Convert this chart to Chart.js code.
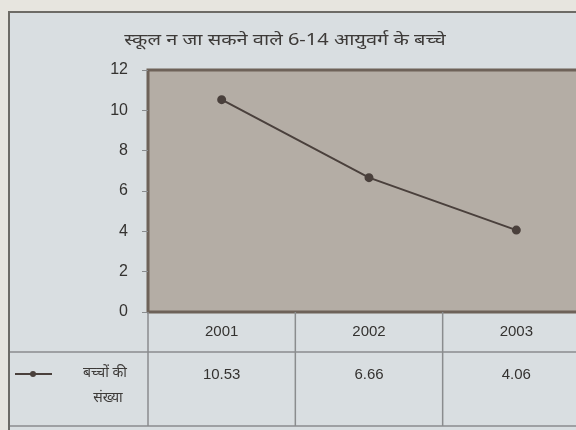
<!DOCTYPE html>
<html>
<head>
<meta charset="utf-8">
<script src="https://cdn.jsdelivr.net/npm/chart.js@4/dist/chart.umd.min.js"></script>
<style>
  html, body { margin: 0; padding: 0; width: 576px; height: 430px; overflow: hidden; background: #e7e5df; }
  #wrap { position: absolute; left: 0; top: 0; width: 600px; height: 430px; }
</style>
</head>
<body>
<div id="wrap"><canvas id="c" width="600" height="430"></canvas></div>
<script>
const title = "स्कूल न जा सकने वाले 6-14 आयुवर्ग के बच्चे";
const seriesName = ["बच्चों की", "संख्या"];
const years = ["2001", "2002", "2003"];
const children = [10.53, 6.66, 4.06];
const childrenText = ["10.53", "6.66", "4.06"];
const yMax = 12;
const yStep = 2;

const ink = "#4a403c";

// scanned page frame, plot background, title and data table
const pagePlugin = {
  id: "page",
  beforeDraw(chart) {
    const { ctx, chartArea: a, width } = chart;
    ctx.save();
    ctx.fillStyle = "#e7e5df";
    ctx.fillRect(0, 0, width, 430);
    ctx.fillStyle = "#d9dee1";
    ctx.fillRect(9, 12, width, 420);
    ctx.strokeStyle = "#6d6b66";
    ctx.lineWidth = 2;
    ctx.beginPath();
    ctx.moveTo(9, 431);
    ctx.lineTo(9, 12);
    ctx.lineTo(width, 12);
    ctx.stroke();
    // plot area
    ctx.fillStyle = "#b4ada5";
    ctx.fillRect(a.left, a.top, width - a.left, a.bottom - a.top);
    ctx.strokeStyle = "#6e6259";
    ctx.lineWidth = 3;
    ctx.beginPath();
    ctx.moveTo(a.left, a.bottom);
    ctx.lineTo(a.left, a.top);
    ctx.lineTo(width, a.top);
    ctx.stroke();
    // title, stretched a bit like the printed one
    ctx.fillStyle = "#3d3a38";
    ctx.font = "16px 'Noto Sans', 'DejaVu Sans', sans-serif";
    ctx.textAlign = "center";
    ctx.textBaseline = "middle";
    ctx.translate(285, 40);
    ctx.scale(1.25, 1);
    ctx.fillText(title, 0, 0);
    ctx.restore();
  },
  afterDraw(chart) {
    const { ctx, chartArea: a, width, scales } = chart;
    const x = scales.x;
    const row1 = a.bottom + 40, row2 = 426;
    ctx.save();
    // bottom border of plot
    ctx.strokeStyle = "#6e6259";
    ctx.lineWidth = 3;
    ctx.beginPath();
    ctx.moveTo(a.left - 1, a.bottom);
    ctx.lineTo(width, a.bottom);
    ctx.stroke();
    // table grid
    ctx.strokeStyle = "#8a8c8e";
    ctx.lineWidth = 1.5;
    ctx.beginPath();
    ctx.moveTo(10, row1); ctx.lineTo(width, row1);
    ctx.moveTo(10, row2); ctx.lineTo(width, row2);
    ctx.moveTo(a.left, a.bottom); ctx.lineTo(a.left, row2);
    for (let i = 0; i < years.length - 1; i++) {
      const b = (x.getPixelForValue(i) + x.getPixelForValue(i + 1)) / 2;
      ctx.moveTo(b, a.bottom); ctx.lineTo(b, row2);
    }
    ctx.stroke();
    // cells
    ctx.fillStyle = "#343230";
    ctx.font = "15px 'Liberation Sans Narrow', 'Liberation Sans', Arial, sans-serif";
    ctx.textAlign = "center";
    ctx.textBaseline = "middle";
    years.forEach((yr, i) => {
      const px = x.getPixelForValue(i);
      ctx.fillText(yr, px, a.bottom + 20);
      ctx.fillText(childrenText[i], px, row1 + 23);
    });
    // legend key
    ctx.strokeStyle = ink;
    ctx.lineWidth = 2;
    ctx.beginPath();
    ctx.moveTo(15, row1 + 22); ctx.lineTo(52, row1 + 22);
    ctx.stroke();
    ctx.fillStyle = ink;
    ctx.beginPath();
    ctx.arc(33, row1 + 22, 3, 0, Math.PI * 2);
    ctx.fill();
    ctx.fillStyle = "#3d3a38";
    ctx.font = "14px 'Noto Sans', 'DejaVu Sans', sans-serif";
    ctx.fillText(seriesName[0], 105, row1 + 21);
    ctx.fillText(seriesName[1], 108, row1 + 46);
    ctx.restore();
  }
};

new Chart(document.getElementById("c"), {
  type: "line",
  data: {
    labels: years,
    datasets: [{
      label: seriesName.join(" "),
      data: children,
      borderColor: ink,
      backgroundColor: ink,
      borderWidth: 2,
      pointRadius: 3.5,
      pointHoverRadius: 3.5,
      tension: 0
    }]
  },
  plugins: [pagePlugin],
  options: {
    responsive: false,
    animation: false,
    layout: { padding: { top: 70, right: 10, bottom: 118, left: 0 } },
    plugins: {
      legend: { display: false },
      title: { display: false },
      tooltip: { enabled: false }
    },
    scales: {
      x: {
        display: false,
        offset: true
      },
      y: {
        min: 0,
        max: yMax,
        afterFit(scale) { scale.width = 148; },
        border: { display: false },
        grid: {
          drawOnChartArea: false,
          drawTicks: true,
          tickLength: 6,
          color: "#8a8c8e"
        },
        ticks: {
          stepSize: yStep,
          padding: 14,
          color: "#343230",
          font: { family: "'Liberation Sans', Arial, sans-serif", size: 16 }
        }
      }
    }
  }
});
</script>
</body>
</html>
